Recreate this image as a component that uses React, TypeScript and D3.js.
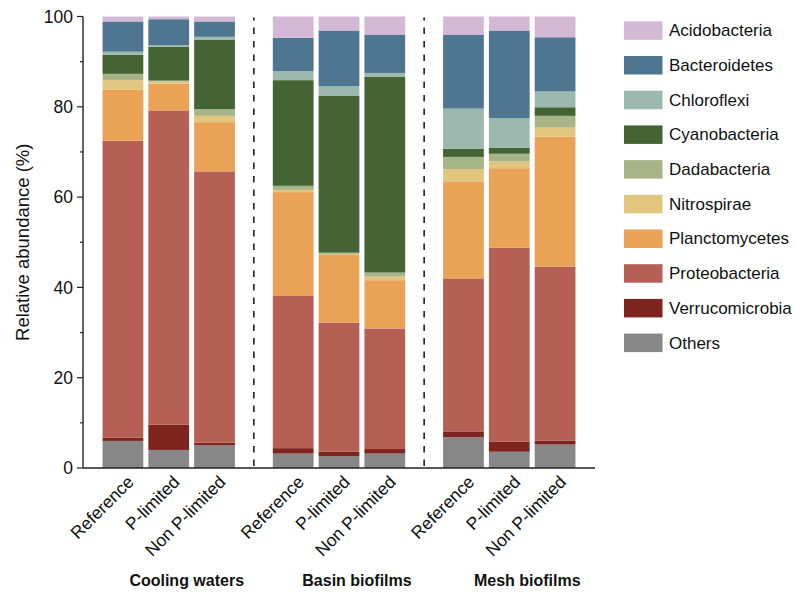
import React from "react";
import * as d3 from "d3";

// Sample groups and treatments
const groups = ["Cooling waters", "Basin biofilms", "Mesh biofilms"];
const treatments = ["Reference", "P-limited", "Non P-limited"];

// Phyla, stacked bottom to top
const phyla = [
  "Others",
  "Verrucomicrobia",
  "Proteobacteria",
  "Planctomycetes",
  "Nitrospirae",
  "Dadabacteria",
  "Cyanobacteria",
  "Chloroflexi",
  "Bacteroidetes",
  "Acidobacteria",
];

const phylumColors = [
  "#878787",
  "#7e241f",
  "#b65f55",
  "#eaa257",
  "#e2c67e",
  "#a6b487",
  "#446433",
  "#9bb9ae",
  "#4f7690",
  "#d4b9d7",
];

// Relative abundance (%) per phylum; order: Cooling (Ref, P, NonP), Basin (...), Mesh (...)
const others = [6.0, 4.0, 5.0, 3.2, 2.6, 3.2, 6.8, 3.6, 5.2];
const verrucomicrobia = [0.7, 5.6, 0.6, 1.2, 1.0, 1.0, 1.2, 2.2, 0.9];
const proteobacteria = [65.8, 69.6, 60.1, 33.7, 28.6, 26.7, 34.0, 43.0, 38.5];
const planctomycetes = [11.3, 5.9, 10.9, 23.0, 15.0, 10.7, 21.5, 17.6, 28.8];
const nitrospirae = [2.1, 0.5, 1.4, 0.5, 0.2, 0.8, 2.7, 1.5, 2.0];
const dadabacteria = [1.4, 0.2, 1.5, 0.9, 0.3, 0.9, 2.7, 1.7, 2.6];
const cyanobacteria = [4.2, 7.5, 15.4, 23.4, 34.7, 43.4, 1.8, 1.3, 1.9];
const chloroflexi = [0.7, 0.3, 0.6, 2.0, 2.2, 0.8, 8.9, 6.6, 3.5];
const bacteroidetes = [6.7, 5.8, 3.4, 7.4, 12.3, 8.5, 16.4, 19.4, 12.0];
const acidobacteria = [1.1, 0.6, 1.1, 4.7, 3.1, 4.0, 4.0, 3.1, 4.6];

const yTicks = [0, 20, 40, 60, 80, 100];
const yMinorTicks = [10, 30, 50, 70, 90];

const seriesValues = [
  others,
  verrucomicrobia,
  proteobacteria,
  planctomycetes,
  nitrospirae,
  dadabacteria,
  cyanobacteria,
  chloroflexi,
  bacteroidetes,
  acidobacteria,
];

const FONT = "Arial, 'Liberation Sans', sans-serif";

export default function App() {
  const width = 795;
  const height = 596;
  const left = 83;
  const right = 595;
  const top = 16.5;
  const bottom = 468;

  const y = d3.scaleLinear().domain([0, 100]).range([bottom, top]);

  const xGroup = d3
    .scaleBand<string>()
    .domain(groups)
    .range([left, right])
    .paddingInner(0.193)
    .paddingOuter(0.1);

  const xInner = d3
    .scaleBand<string>()
    .domain(treatments)
    .range([0, xGroup.bandwidth()])
    .paddingInner(0.11)
    .paddingOuter(0.055);

  const samples = groups.flatMap((g, gi) =>
    treatments.map((t, ti) => {
      const row: Record<string, any> = { group: g, treatment: t };
      phyla.forEach((p, pi) => {
        row[p] = seriesValues[pi][gi * 3 + ti];
      });
      return row;
    })
  );

  const stacked = d3.stack<Record<string, any>>().keys(phyla)(samples);

  const xPos = (d: Record<string, any>) =>
    (xGroup(d.group) as number) + (xInner(d.treatment) as number);

  const dividers = groups.slice(1).map((g, i) => {
    const prevEnd = (xGroup(groups[i]) as number) + xGroup.bandwidth();
    const nextStart = xGroup(g) as number;
    return (prevEnd + nextStart) / 2;
  });

  const legendX = 624;
  const legendY0 = 30.3;
  const legendStep = 34.7;
  const legendOrder = phyla.map((p, i) => ({ p, c: phylumColors[i] })).reverse();

  return (
    <svg
      width={width}
      height={height}
      style={{ position: "absolute", left: 0, top: 0, background: "#fff" }}
      fontFamily={FONT}
    >
      <rect width={width} height={height} fill="#fff" />

      {/* stacked bars */}
      {stacked.map((layer, li) => (
        <g key={layer.key} fill={phylumColors[li]}>
          {layer.map((seg, si) => (
            <rect
              key={si}
              x={xPos(seg.data)}
              y={y(seg[1])}
              width={xInner.bandwidth()}
              height={Math.max(0, y(seg[0]) - y(seg[1]))}
            />
          ))}
        </g>
      ))}

      {/* group dividers */}
      {dividers.map((dx, i) => (
        <line
          key={i}
          x1={dx}
          x2={dx}
          y1={y(0) - 2}
          y2={y(100) + 1}
          stroke="#111"
          strokeWidth={1.5}
          strokeDasharray="6.5 7"
        />
      ))}

      {/* y axis */}
      <line x1={left} x2={left} y1={top} y2={bottom} stroke="#222" strokeWidth={1.4} />
      {yTicks.map((t) => (
        <g key={t}>
          <line x1={left - 6} x2={left} y1={y(t)} y2={y(t)} stroke="#222" strokeWidth={1.2} />
          <text
            x={left - 10}
            y={y(t)}
            dy="0.35em"
            textAnchor="end"
            fontSize={17.5}
            fill="#111"
          >
            {t}
          </text>
        </g>
      ))}
      {yMinorTicks.map((t) => (
        <line key={t} x1={left - 3} x2={left} y1={y(t)} y2={y(t)} stroke="#222" strokeWidth={1.2} />
      ))}
      <text
        transform={`translate(29, ${(top + bottom) / 2}) rotate(-90)`}
        textAnchor="middle"
        fontSize={18.5}
        fill="#111"
      >
        Relative abundance (%)
      </text>

      {/* x axis */}
      <line x1={left} x2={right} y1={bottom} y2={bottom} stroke="#222" strokeWidth={1.4} />
      {samples.map((d, i) => {
        const cx = xPos(d) + xInner.bandwidth() / 2;
        return (
          <text
            key={i}
            transform={`translate(${cx + 12}, ${bottom + 15}) rotate(-45)`}
            textAnchor="end"
            fontSize={17.5}
            fill="#111"
          >
            {d.treatment}
          </text>
        );
      })}
      {groups.map((g) => (
        <text
          key={g}
          x={(xGroup(g) as number) + xGroup.bandwidth() / 2 + 18}
          y={586}
          textAnchor="middle"
          fontSize={16}
          fontWeight="bold"
          fill="#111"
        >
          {g}
        </text>
      ))}

      {/* legend */}
      {legendOrder.map((item, i) => {
        const cy = legendY0 + i * legendStep;
        return (
          <g key={item.p}>
            <rect x={legendX} y={cy - 9} width={38.5} height={18.5} fill={item.c} />
            <text x={legendX + 45} y={cy} dy="0.35em" fontSize={17} fill="#111">
              {item.p}
            </text>
          </g>
        );
      })}
    </svg>
  );
}
